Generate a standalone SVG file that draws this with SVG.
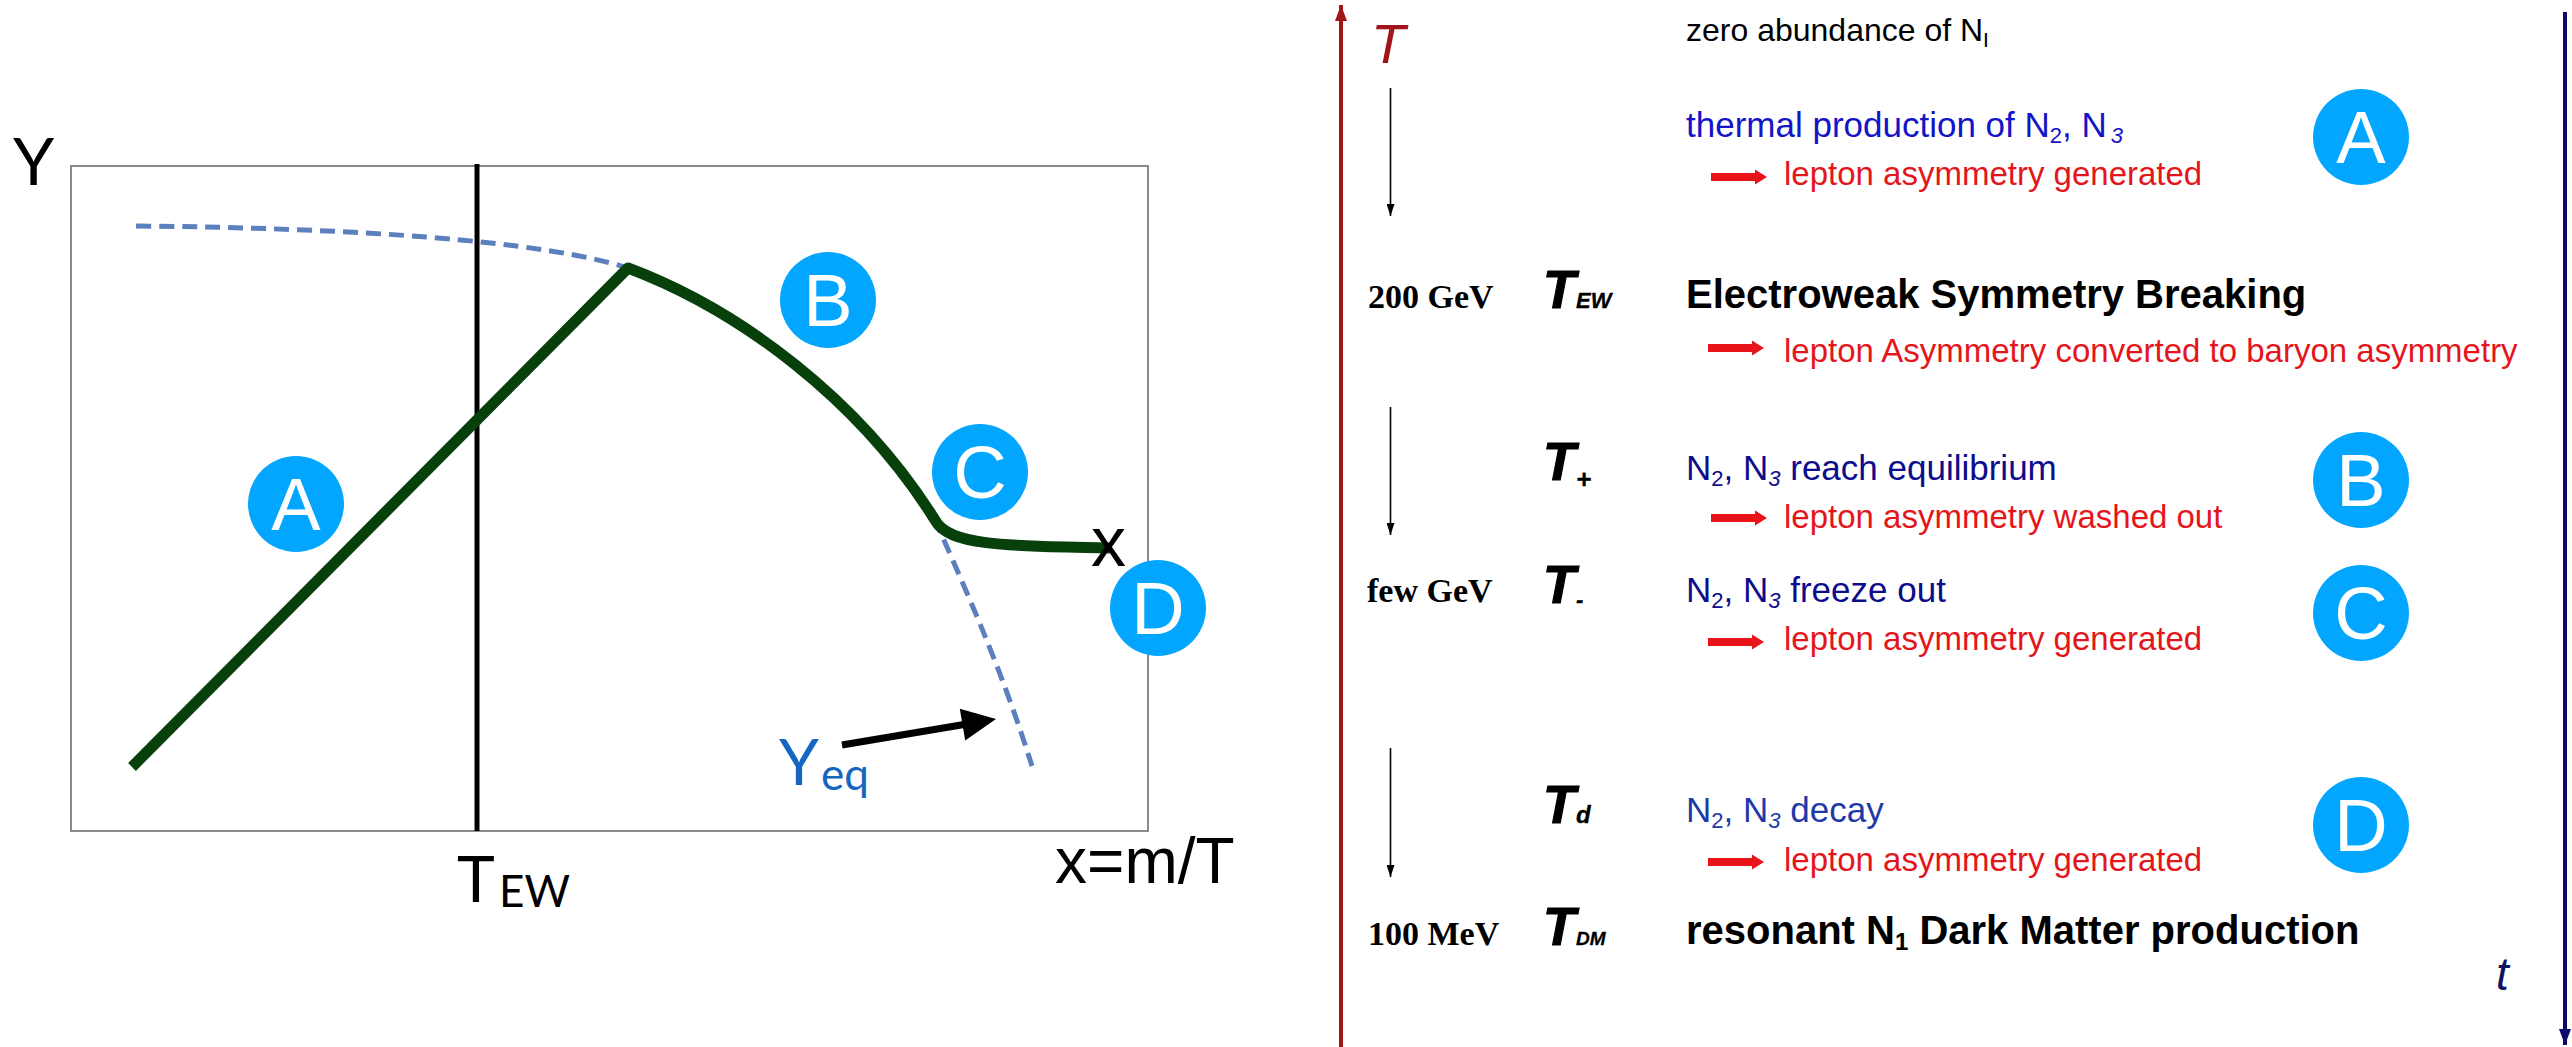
<svg xmlns="http://www.w3.org/2000/svg" width="2572" height="1047" viewBox="0 0 2572 1047">
<style>
  .sans{font-family:"Liberation Sans",Arial,sans-serif}
  .gill{font-family:Lato,"Liberation Sans",sans-serif}
  .badge{fill:#02A6FF}
  .badgeTxt{font-family:"Liberation Sans",Arial,sans-serif;font-size:74px;fill:#fff;text-anchor:middle}
  .red{font-family:"Liberation Sans",Arial,sans-serif;font-size:33px;fill:#E4161C}
  .blue{font-family:"Liberation Sans",Arial,sans-serif;font-size:35px}
  .bold40{font-family:"Liberation Sans",Arial,sans-serif;font-size:40px;font-weight:bold;fill:#000}
  .energy{font-family:"Liberation Serif","Times New Roman",serif;font-size:34px;font-weight:bold;fill:#000}
  .tsym{font-family:"Liberation Sans",Arial,sans-serif;font-size:53px;font-weight:bold;font-style:italic;fill:#000;stroke:#000;stroke-width:1.2}
  .tsub{stroke-width:0.3}
  .sub{font-size:22px}
  .green{fill:none;stroke:#08400C;stroke-width:11;stroke-linejoin:round}
  .eq{fill:none;stroke:#5B80BD;stroke-width:5;stroke-dasharray:15 8}
  .thin{stroke:#000;stroke-width:1.6;fill:none}
</style>
<defs>
  <marker id="blkHead" viewBox="0 0 12 8" refX="12" refY="4" markerWidth="12" markerHeight="8" markerUnits="userSpaceOnUse" orient="auto">
    <path d="M0,0 L12,4 L0,8 z" fill="#000"/>
  </marker>
  <marker id="redAxisHead" viewBox="0 0 16 12" refX="16" refY="6" markerWidth="16" markerHeight="12" markerUnits="userSpaceOnUse" orient="auto">
    <path d="M0,0 L16,6 L0,12 z" fill="#A11515"/>
  </marker>
  <marker id="blueAxisHead" viewBox="0 0 16 12" refX="16" refY="6" markerWidth="16" markerHeight="12" markerUnits="userSpaceOnUse" orient="auto">
    <path d="M0,0 L16,6 L0,12 z" fill="#0B0B6B"/>
  </marker>
  <path id="redArrow" d="M0,-4 H44 V-7.5 L56,0 L44,7.5 V4 H0 z" fill="#E8141A"/>
</defs>

<rect width="2572" height="1047" fill="#fff"/>

<!-- Left plot -->
<g id="plot">
  <rect x="71" y="166" width="1077" height="665" fill="none" stroke="#8a8a8a" stroke-width="2"/>
  <path class="eq" d="M136,226 C350,228 540,240 628,268 C740,310 860,400 935,520 C975,610 1005,680 1032,766"/>
  <line x1="477" y1="164" x2="477" y2="831" stroke="#000" stroke-width="5"/>
  <path class="green" d="M132,767 L628,268 C740,310 860,400 935,520 C948,545 1000,546 1110,548"/>
  <text class="sans" x="1091" y="566" font-size="70">x</text>
  <text class="gill" x="13" y="185" font-size="66">Y</text>
  <text class="gill" x="457" y="902" font-size="64">T<tspan font-size="44" x="499" y="907">EW</tspan></text>
  <text class="sans" x="1055" y="883" font-size="64">x=m/T</text>
  <text class="gill" x="779" y="785" font-size="64" fill="#1466C0">Y<tspan font-size="44" x="821" y="790">eq</tspan></text>
</g>

<g id="node-A-left"><circle class="badge" cx="296" cy="504" r="48"/><text class="badgeTxt" x="296" y="530">A</text></g>
<g id="node-B-left"><circle class="badge" cx="828" cy="300" r="48"/><text class="badgeTxt" x="828" y="326">B</text></g>
<g id="node-C-left"><circle class="badge" cx="980" cy="472" r="48"/><text class="badgeTxt" x="980" y="498">C</text></g>
<g id="node-D-left"><circle class="badge" cx="1158" cy="608" r="48"/><text class="badgeTxt" x="1158" y="634">D</text></g>

<!-- Connectors -->
<g id="connectors">
  <line x1="1341" y1="1047" x2="1341" y2="5" stroke="#A11515" stroke-width="4" marker-end="url(#redAxisHead)"/>
  <line x1="2565" y1="12" x2="2565" y2="1045" stroke="#0B0B6B" stroke-width="4" marker-end="url(#blueAxisHead)"/>
  <line class="thin" x1="1390.5" y1="88" x2="1390.5" y2="216" marker-end="url(#blkHead)"/>
  <line class="thin" x1="1390.5" y1="407" x2="1390.5" y2="535" marker-end="url(#blkHead)"/>
  <line class="thin" x1="1390.5" y1="748" x2="1390.5" y2="877" marker-end="url(#blkHead)"/>
  <use href="#redArrow" x="1711" y="177"/>
  <use href="#redArrow" x="1708" y="348"/>
  <use href="#redArrow" x="1711" y="518"/>
  <use href="#redArrow" x="1708" y="642"/>
  <use href="#redArrow" x="1708" y="862"/>
  <line x1="842" y1="745" x2="964" y2="724.5" stroke="#000" stroke-width="7"/>
  <polygon points="996,719 965.2,740.4 959.8,708.8" fill="#000"/>
</g>

<!-- Right panel -->
<g id="axis-labels">
  <text class="sans" x="1371" y="63" font-size="56" font-style="italic" fill="#A0141A">T</text>
  <text class="sans" x="2496" y="990" font-size="46" font-style="italic" fill="#12125E">t</text>
</g>

<g id="row-zero">
  <text class="sans" x="1686" y="41" font-size="32" fill="#000">zero abundance of N<tspan font-size="21" dy="6">I</tspan></text>
</g>
<g id="row-thermal">
  <text class="blue" x="1686" y="137" font-size="33" fill="#1414C8">thermal production of N<tspan class="sub" dy="6">2</tspan><tspan dy="-6">, N</tspan><tspan class="sub" dx="4" dy="6" font-style="italic">3</tspan></text>
  <text class="red" x="1784" y="185">lepton asymmetry generated</text>
</g>
<g id="row-ew">
  <text class="energy" x="1368" y="308">200 GeV</text>
  <text class="tsym" x="1543" y="308">T<tspan class="tsub" x="1576" font-size="22">EW</tspan></text>
  <text class="bold40" x="1686" y="308">Electroweak Symmetry Breaking</text>
  <text class="red" x="1784" y="362">lepton Asymmetry converted to baryon asymmetry</text>
</g>
<g id="row-plus">
  <text class="tsym" x="1543" y="480">T<tspan class="tsub" x="1576" y="488" font-size="26">+</tspan></text>
  <text class="blue" x="1686" y="480" fill="#0C0C8C">N<tspan class="sub" dy="6">2</tspan><tspan dy="-6">, N</tspan><tspan class="sub" dy="6" font-style="italic">3</tspan><tspan dy="-6"> reach equilibrium</tspan></text>
  <text class="red" x="1784" y="528">lepton asymmetry washed out</text>
</g>
<g id="row-minus">
  <text class="energy" x="1367" y="602">few GeV</text>
  <text class="tsym" x="1543" y="603">T<tspan class="tsub" x="1576" y="607" font-size="22">-</tspan></text>
  <text class="blue" x="1686" y="602" fill="#0C0C8C">N<tspan class="sub" dy="6">2</tspan><tspan dy="-6">, N</tspan><tspan class="sub" dy="6" font-style="italic">3</tspan><tspan dy="-6"> freeze out</tspan></text>
  <text class="red" x="1784" y="650">lepton asymmetry generated</text>
</g>
<g id="row-decay">
  <text class="tsym" x="1543" y="823">T<tspan class="tsub" x="1576" font-size="24">d</tspan></text>
  <text class="blue" x="1686" y="822" fill="#1E3AA8">N<tspan class="sub" dy="6">2</tspan><tspan dy="-6">, N</tspan><tspan class="sub" dy="6" font-style="italic">3</tspan><tspan dy="-6"> decay</tspan></text>
  <text class="red" x="1784" y="871">lepton asymmetry generated</text>
</g>
<g id="row-dm">
  <text class="energy" x="1368" y="945">100 MeV</text>
  <text class="tsym" x="1543" y="945">T<tspan class="tsub" x="1576" font-size="19">DM</tspan></text>
  <text class="bold40" x="1686" y="944">resonant N<tspan font-size="24" dy="6">1</tspan><tspan dy="-6"> Dark Matter production</tspan></text>
</g>

<g id="node-A-right"><circle class="badge" cx="2361" cy="137" r="48"/><text class="badgeTxt" x="2361" y="163">A</text></g>
<g id="node-B-right"><circle class="badge" cx="2361" cy="480" r="48"/><text class="badgeTxt" x="2361" y="506">B</text></g>
<g id="node-C-right"><circle class="badge" cx="2361" cy="613" r="48"/><text class="badgeTxt" x="2361" y="639">C</text></g>
<g id="node-D-right"><circle class="badge" cx="2361" cy="825" r="48"/><text class="badgeTxt" x="2361" y="851">D</text></g>
</svg>
